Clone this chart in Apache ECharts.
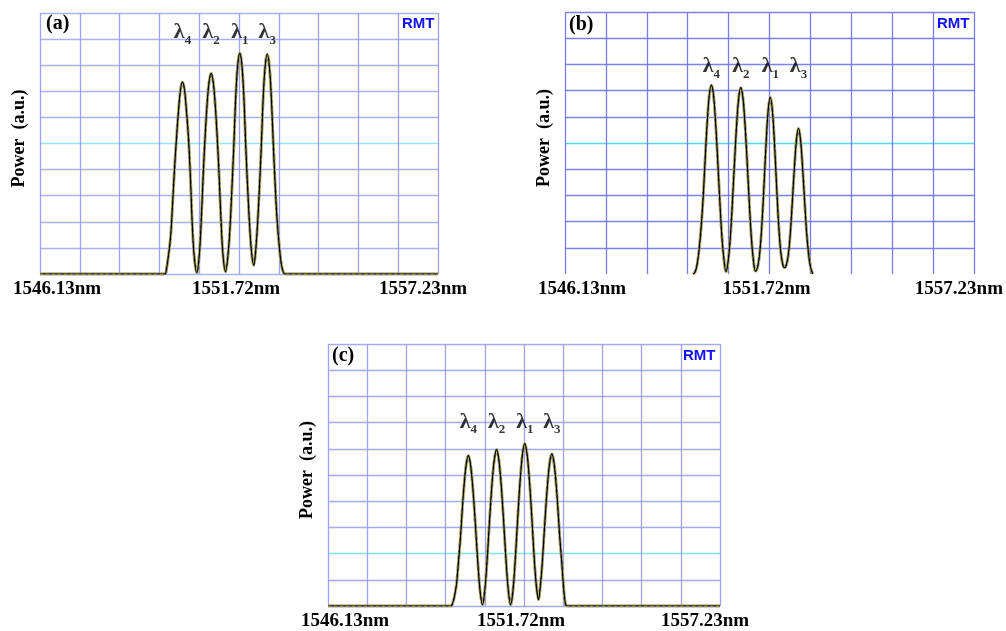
<!DOCTYPE html>
<html lang="en">
  <head>
    <meta charset="UTF-8" />
    <title>WDM spectra</title>
    <script src="https://cdn.jsdelivr.net/npm/echarts@6/dist/echarts.min.js"></script>
    <style>
      body { margin: 0; background: #fff; }
    </style>
  </head>
  <body>
    <div id="main" style="width: 1006px; height: 631px"></div>
    <script>
      // x in grid divisions (0..10 spans 1546.13nm .. 1557.23nm), y in divisions (a.u.)
      const specX = [
        0, 3.13, 3.18, 3.23, 3.28, 3.33, 3.38, 3.43, 3.48, 3.53, 3.58, 3.63, 3.68, 3.73, 3.78, 3.83, 3.88, 3.94,
        4.0, 4.05, 4.1, 4.15, 4.2, 4.25, 4.3, 4.35, 4.4, 4.45, 4.5, 4.55, 4.6, 4.66,
        4.72, 4.77, 4.82, 4.87, 4.92, 4.97, 5.02, 5.07, 5.12, 5.17, 5.22, 5.27, 5.32, 5.37,
        5.41, 5.46, 5.51, 5.56, 5.61, 5.66, 5.71, 5.76, 5.81, 5.86, 5.91, 5.96, 6.01, 6.06, 6.11, 6.16, 10
      ];
      const powerA = [
        0, 0, 0.22, 0.74, 1.4, 2.65, 4.04, 5.22, 6.25, 7.06, 7.35, 7.06, 6.25, 5.22, 3.68, 1.76, 0.59, 0.05,
        0.69, 2.0, 3.77, 5.31, 6.54, 7.38, 7.69, 7.38, 6.54, 5.31, 3.77, 2.0, 0.69, 0.09,
        0.68, 1.69, 3.21, 4.91, 6.85, 8.04, 8.46, 8.04, 6.85, 4.91, 3.21, 1.78, 0.76, 0.33,
        0.74, 1.77, 3.2, 4.88, 6.82, 8.0, 8.42, 8.0, 6.82, 5.05, 3.37, 2.02, 1.09, 0.42, 0.08, 0, 0
      ];
      const powerB = [
        null, 0, 0.07, 0.36, 0.94, 1.8, 2.96, 4.47, 5.84, 6.85, 7.21, 6.85, 5.84, 4.47, 2.96, 1.59, 0.65, 0.09,
        0.64, 1.56, 2.92, 4.41, 5.76, 6.75, 7.11, 6.75, 5.76, 4.41, 2.92, 1.56, 0.64, 0.11,
        0.34, 0.94, 2.02, 3.5, 5.06, 6.27, 6.74, 6.27, 5.06, 3.5, 2.02, 0.94, 0.4, 0.24,
        0.33, 0.72, 1.56, 2.78, 4.06, 5.12, 5.56, 5.12, 4.06, 2.78, 1.56, 0.72, 0.22, 0, null, null, null
      ];
      const powerC = [
        0, 0, 0.11, 0.4, 0.86, 1.72, 2.64, 3.79, 4.76, 5.45, 5.74, 5.45, 4.76, 3.79, 2.64, 1.49, 0.57, 0.05,
        0.6, 1.55, 2.75, 3.94, 4.96, 5.67, 5.97, 5.67, 4.96, 3.94, 2.75, 1.55, 0.6, 0.05,
        0.62, 1.61, 2.85, 4.09, 5.15, 5.89, 6.2, 5.89, 5.15, 4.09, 2.85, 1.61, 0.7, 0.24,
        0.66, 1.51, 2.67, 3.83, 4.82, 5.52, 5.81, 5.52, 4.82, 3.83, 2.67, 1.74, 0.7, 0.06, 0, 0, 0
      ];
      const peakX = [3.58, 4.3, 5.02, 5.71];
      const peakNames = ['4', '2', '1', '3'];
      const labelY = [9.26, 7.91, 7.02];
      const xTickLabels = { 0: '1546.13nm', 5: '1551.72nm', 10: '1557.23nm' };
      const panelNames = ['(a)', '(b)', '(c)'];
      const yName = 'Power  (a.u.)';

      const serif = 'Liberation Serif, Times New Roman, serif';
      const panels = [
        { grid: { left: 40, top: 13, width: 398, height: 261 }, power: powerA,
          vCol: '#a0a0f6', hCol: '#a6b2f6', cyan: '#92e4fa', cyanAt: 5, hideBottom: false,
          tag: [46, 14], rmt: [402, 16] },
        { grid: { left: 565, top: 12, width: 410, height: 262 }, power: powerB,
          vCol: '#7a7aec', hCol: '#7a82ec', cyan: '#50d8f2', cyanAt: 5, hideBottom: true,
          tag: [569, 15], rmt: [937, 16] },
        { grid: { left: 328, top: 344, width: 392, height: 263 }, power: powerC,
          vCol: '#a0a0f4', hCol: '#a0adf4', cyan: '#7ce4f0', cyanAt: 2, hideBottom: false,
          tag: [332, 346], rmt: [683, 348] }
      ];

      const chart = echarts.init(document.getElementById('main'));
      const grids = [], xAxes = [], yAxes = [], series = [], graphics = [];

      panels.forEach(function (p, k) {
        grids.push(Object.assign({ containLabel: false }, p.grid));
        xAxes.push({
          type: 'value', gridIndex: k, min: 0, max: 10, interval: 1,
          axisLine: { show: false }, axisTick: { show: false },
          splitLine: { show: true, lineStyle: { color: p.vCol, width: 1.3 } },
          axisLabel: {
            margin: 6, showMinLabel: true, showMaxLabel: true,
            formatter: function (v) {
              return xTickLabels[v] ? '{p' + v + '|' + xTickLabels[v] + '}' : '';
            },
            rich: {
              p0: { fontFamily: serif, fontWeight: 'bold', fontSize: 19, color: '#000', padding: [0, 0, 0, 34] },
              p5: { fontFamily: serif, fontWeight: 'bold', fontSize: 19, color: '#000', padding: [0, 6, 0, 0] },
              p10: { fontFamily: serif, fontWeight: 'bold', fontSize: 19, color: '#000', padding: [0, 30, 0, 0] }
            }
          }
        });
        const hColors = [];
        for (let i = 0; i <= 10; i++) {
          if (i === 0 && p.hideBottom) hColors.push('rgba(0,0,0,0)');
          else hColors.push(i === p.cyanAt ? p.cyan : p.hCol);
        }
        yAxes.push({
          type: 'value', gridIndex: k, min: 0, max: 10, interval: 1,
          axisLine: { show: false }, axisTick: { show: false }, axisLabel: { show: false },
          splitLine: { show: true, lineStyle: { color: hColors, width: 1.4 } },
          name: yName, nameLocation: 'middle', nameGap: 12,
          nameTextStyle: { fontFamily: serif, fontWeight: 'bold', fontSize: 18, color: '#000', padding: [0, 0, 0, 10] }
        });

        const pts = specX.map(function (x, i) {
          return [x, p.power[i] == null ? '-' : p.power[i]];
        });
        const base = {
          type: 'line', xAxisIndex: k, yAxisIndex: k, data: pts, symbol: 'none',
          smooth: 0.4, silent: true, animation: false
        };
        series.push(Object.assign({}, base, { lineStyle: { color: '#85857c', width: 2.8 } }));
        series.push(Object.assign({}, base, { lineStyle: { color: '#c9c258', width: 2.8, type: [3, 3] } }));
        series.push(Object.assign({}, base, { lineStyle: { color: '#000', width: 1.2 } }));

        series.push({
          type: 'scatter', xAxisIndex: k, yAxisIndex: k, symbolSize: 0, silent: true, animation: false,
          data: peakX.map(function (x, i) { return [x, labelY[k], peakNames[i]]; }),
          label: {
            show: true, position: 'inside',
            formatter: function (d) { return '{l|λ}{s|' + d.data[2] + '}'; },
            rich: {
              l: { fontFamily: serif, fontWeight: 'bold', fontSize: 22, color: '#000' },
              s: { fontFamily: serif, fontWeight: 'bold', fontSize: 13, color: '#000', padding: [16, 0, 0, 0] }
            }
          }
        });

        graphics.push({
          type: 'text', left: p.tag[0], top: p.tag[1],
          style: { text: panelNames[k], font: 'bold 20px ' + serif, fill: '#000' }
        });
        graphics.push({
          type: 'text', left: p.rmt[0], top: p.rmt[1],
          style: { text: 'RMT', font: 'bold 15px Liberation Sans, Arial, sans-serif', fill: '#1010f2' }
        });
      });

      chart.setOption({
        animation: false,
        grid: grids,
        xAxis: xAxes,
        yAxis: yAxes,
        series: series,
        graphic: graphics
      });
    </script>
  </body>
</html>
